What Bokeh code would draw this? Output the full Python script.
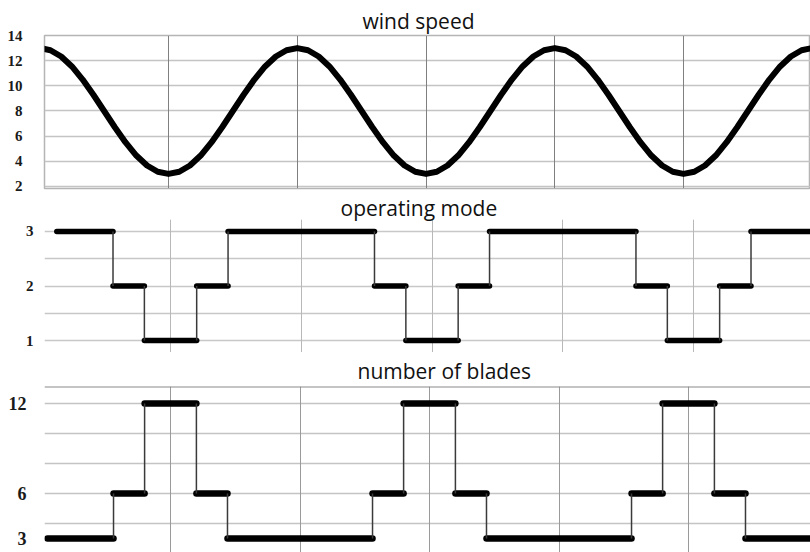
from bokeh.plotting import figure
from bokeh.layouts import column
from bokeh.models import FixedTicker, Range1d, Grid, Span
from bokeh.embed import file_html
from bokeh.resources import INLINE

# ---------------- data ----------------
wind_time = [k / 12 for k in range(73)]
wind_speed = [13.0, 12.83, 12.33, 11.54, 10.5, 9.29, 8.0, 6.71, 5.5, 4.46, 3.67, 3.17, 3.0,
              3.17, 3.67, 4.46, 5.5, 6.71, 8.0, 9.29, 10.5, 11.54, 12.33, 12.83, 13.0,
              12.83, 12.33, 11.54, 10.5, 9.29, 8.0, 6.71, 5.5, 4.46, 3.67, 3.17, 3.0,
              3.17, 3.67, 4.46, 5.5, 6.71, 8.0, 9.29, 10.5, 11.54, 12.33, 12.83, 13.0,
              12.83, 12.33, 11.54, 10.5, 9.29, 8.0, 6.71, 5.5, 4.46, 3.67, 3.17, 3.0,
              3.17, 3.67, 4.46, 5.5, 6.71, 8.0, 9.29, 10.5, 11.54, 12.33, 12.83, 13.0]

# switching instants (edges of each constant interval)
mode_edges = [0.13, 0.56, 0.80, 1.20, 1.44, 2.56, 2.80, 3.20, 3.44, 4.56, 4.80, 5.20, 5.44, 6.0]
mode_levels = [3, 2, 1, 2, 3, 2, 1, 2, 3, 2, 1, 2, 3]

blade_edges = [0.05, 0.56, 0.80, 1.20, 1.44, 2.56, 2.80, 3.20, 3.44, 4.56, 4.80, 5.20, 5.44, 6.0]
blade_counts = [3, 6, 12, 6, 3, 6, 12, 6, 3, 6, 12, 6, 3]

wind_ticks = [2, 4, 6, 8, 10, 12, 14]
mode_ticks = [1, 2, 3]
mode_grid = [1, 1.5, 2, 2.5, 3]
blade_ticks = [3, 6, 12]
blade_grid = [2, 4, 6, 8, 10, 12]
time_grid = [1, 2, 3, 4, 5]

titles = ["wind speed", "operating mode", "number of blades"]

TITLE_FONT = "Open Sans"
TICK_FONT = "Liberation Serif"
FRAME_LEFT = 44


def make_fig(height, xr, yr, top, bottom, title, title_offset, title_standoff):
    p = figure(width=810, height=height, x_range=xr, y_range=yr,
               toolbar_location=None, output_backend="svg",
               x_axis_location=None, y_axis_location="left",
               min_border_left=FRAME_LEFT, min_border_right=0,
               min_border_top=top, min_border_bottom=bottom,
               title=title)
    p.title.align = "left"
    p.title.offset = title_offset
    p.title.text_font = TITLE_FONT
    p.title.text_font_style = "normal"
    p.title.text_font_size = "21px"
    p.title.text_color = "#111111"
    p.title.standoff = title_standoff
    p.background_fill_color = "white"
    p.border_fill_color = "white"
    ax = p.yaxis[0]
    ax.axis_label = None
    ax.axis_line_color = None
    ax.major_tick_line_color = None
    ax.minor_tick_line_color = None
    ax.major_tick_out = 0
    ax.major_tick_in = 0
    ax.minor_tick_out = 0
    ax.minor_tick_in = 0
    ax.major_label_text_font = TICK_FONT
    ax.major_label_text_font_style = "bold"
    ax.major_label_text_color = "#1a1a1a"
    return p


# ---------------- wind speed ----------------
p1 = make_fig(194, Range1d(0.037, 5.986), Range1d(1.84, 14), 35, 6, titles[0], 318, 2)
p1.yaxis.ticker = FixedTicker(ticks=wind_ticks)
p1.yaxis.major_label_text_font_size = "15px"
p1.yaxis.major_label_standoff = 22
p1.ygrid.ticker = FixedTicker(ticks=wind_ticks)
p1.ygrid.grid_line_color = "#c4c4c4"
p1.ygrid.grid_line_width = 1.5
p1.add_layout(Grid(dimension=0, ticker=FixedTicker(ticks=time_grid),
                   grid_line_color="#808080", grid_line_width=1), "center")
p1.outline_line_color = "#b5b5b5"
p1.outline_line_width = 1.5
p1.line(wind_time, wind_speed, line_color="black", line_width=6,
        line_join="round", line_cap="round")

# ---------------- operating mode ----------------
p2 = make_fig(158, Range1d(0.036, 5.895), Range1d(0.78, 3.22), 24, 0, titles[1], 296, -5)
p2.yaxis.ticker = FixedTicker(ticks=mode_ticks)
p2.yaxis.major_label_text_font_size = "15px"
p2.yaxis.major_label_standoff = 11
p2.ygrid.ticker = FixedTicker(ticks=mode_grid)
p2.ygrid.grid_line_color = "#c8c8c8"
p2.ygrid.grid_line_width = 1.3
p2.add_layout(Grid(dimension=0, ticker=FixedTicker(ticks=time_grid),
                   grid_line_color="#b8b8b8", grid_line_width=1), "center")
p2.outline_line_color = None

p2.segment(x0=mode_edges[:-1], x1=mode_edges[1:], y0=mode_levels, y1=mode_levels,
           line_color="black", line_width=5.5, line_cap="round")
p2.segment(x0=mode_edges[1:-1], x1=mode_edges[1:-1], y0=mode_levels[:-1], y1=mode_levels[1:],
           line_color="#3a3a3a", line_width=1.5)

# ---------------- number of blades ----------------
p3 = make_fig(200, Range1d(0.027, 5.942), Range1d(2.07, 13.13), 34, 0, titles[2], 313, 4)
p3.yaxis.ticker = FixedTicker(ticks=blade_ticks)
p3.yaxis.major_label_text_font_size = "18px"
p3.yaxis.major_label_standoff = 18
p3.ygrid.ticker = FixedTicker(ticks=blade_grid)
p3.ygrid.grid_line_color = "#c4c4c4"
p3.ygrid.grid_line_width = 1.5
p3.add_layout(Grid(dimension=0, ticker=FixedTicker(ticks=time_grid),
                   grid_line_color="#9a9a9a", grid_line_width=1), "center")
p3.outline_line_color = None
p3.add_layout(Span(location=13.13, dimension="width", line_color="#8a8a8a", line_width=2))

p3.segment(x0=blade_edges[:-1], x1=blade_edges[1:], y0=blade_counts, y1=blade_counts,
           line_color="black", line_width=6.5, line_cap="round")
p3.segment(x0=blade_edges[1:-1], x1=blade_edges[1:-1], y0=blade_counts[:-1], y1=blade_counts[1:],
           line_color="#3a3a3a", line_width=1.5)

layout = column(p1, p2, p3, spacing=0)
open("out.html", "w").write(file_html(layout, INLINE))
